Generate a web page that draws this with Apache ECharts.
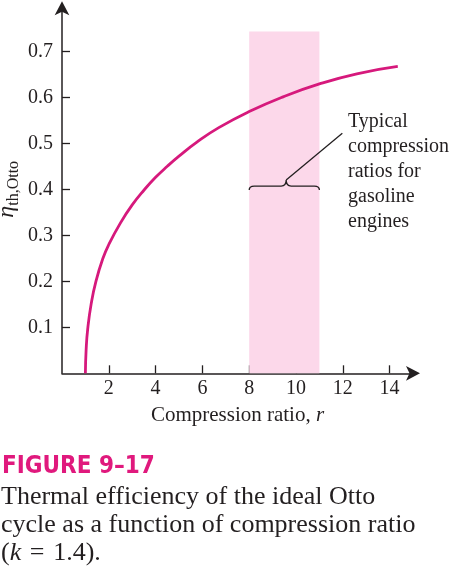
<!DOCTYPE html>
<html>
<head>
<meta charset="utf-8">
<title>Otto</title>
<script src="https://cdn.jsdelivr.net/npm/echarts@6/dist/echarts.min.js"></script>
<style>
    html, body { margin: 0; padding: 0; background: #ffffff; }
    #grafico_1 { width: 455px; height: 578px; }
</style>
</head>
<body>
<div id="grafico_1"></div>
<script>
// valores
var razones = [1, 1.03, 1.1, 1.25, 1.45, 1.75, 2, 2.5, 3, 3.5, 4, 4.5, 5, 5.75, 6.7, 8, 9.45, 11, 12.6, 14.35];
var eficiencia = [0, 0.05, 0.097, 0.152, 0.2, 0.25, 0.28, 0.327, 0.366, 0.398, 0.426, 0.45, 0.472, 0.502, 0.534, 0.569, 0.601, 0.629, 0.651, 0.667];
var ticks_x = [2, 4, 6, 8, 10, 12, 14];
var ticks_y = [0.1, 0.2, 0.3, 0.4, 0.5, 0.6, 0.7];
var rango_tipico = [8, 11];
var altura_rango = 0.743;
var nivel_llave = 0.407;
var punta_llave = 9.58;
var fin_flecha = [11.98, 0.522];
var nota = ["Typical", "compression", "ratios for", "gasoline", "engines"];

var NEGRO = "#231f20";
var ROSA = "#d6197c";
var SERIF = "'Liberation Serif', 'Times New Roman', serif";

function getPuntos(xs, ys){
    var retornar = [];
    xs.forEach(function(x, i){
        retornar.push([x, ys[i]]);
    });
    return retornar;
}

function dibujar_llave(params, api){
    var a = api.coord([rango_tipico[0], nivel_llave]);
    var b = api.coord([rango_tipico[1], nivel_llave]);
    var m = api.coord([punta_llave, nivel_llave]);
    var e = api.coord(fin_flecha);
    var y = a[1], r = 5;
    var d = "M" + a[0] + " " + (y + 4) +
        " Q" + a[0] + " " + y + " " + (a[0] + r) + " " + y +
        " L" + (m[0] - r) + " " + y +
        " Q" + m[0] + " " + y + " " + m[0] + " " + (y - 6) +
        " Q" + m[0] + " " + y + " " + (m[0] + r) + " " + y +
        " L" + (b[0] - r) + " " + y +
        " Q" + b[0] + " " + y + " " + b[0] + " " + (y + 4);
    return {
        type: "group",
        children: [
            { type: "path", shape: { pathData: d }, style: { fill: "none", stroke: NEGRO, lineWidth: 1.3 } },
            { type: "line", shape: { x1: m[0], y1: y - 6, x2: e[0], y2: e[1] }, style: { stroke: NEGRO, lineWidth: 1.3 } }
        ]
    };
}

function grafico1(){
    var dom = document.getElementById("grafico_1");
    var myChart = echarts.init(dom);
    var ejeLinea = { color: NEGRO, width: 1.5 };
    var option = {
        animation: false,
        grid: { left: 62, top: 5.3, width: 351, height: 368, containLabel: false, outerBoundsMode: "none" },
        xAxis: {
            type: "value",
            min: 0,
            max: 15,
            name: "{n|Compression ratio, }{i|r}",
            nameLocation: "middle",
            nameGap: 32,
            nameMoveOverlap: false,
            nameTextStyle: {
                rich: {
                    n: { fontSize: 21, fontFamily: SERIF, color: NEGRO },
                    i: { fontSize: 21, fontFamily: SERIF, fontStyle: "italic", color: NEGRO }
                }
            },
            axisLine: { show: true, onZero: false, symbol: ["none", "arrow"], symbolSize: [11, 14], symbolOffset: [0, 7], lineStyle: ejeLinea },
            axisTick: { show: true, inside: true, length: 8, customValues: ticks_x, lineStyle: { color: NEGRO, width: 1.3 } },
            axisLabel: { customValues: ticks_x, margin: 5, fontSize: 20, fontFamily: SERIF, color: NEGRO },
            splitLine: { show: false }
        },
        yAxis: {
            type: "value",
            min: 0,
            max: 0.8,
            name: "{e|η}{s|th,Otto}",
            nameLocation: "middle",
            nameGap: 40,
            nameMoveOverlap: false,
            nameTextStyle: {
                rich: {
                    e: { fontSize: 24, fontFamily: SERIF, fontStyle: "italic", color: NEGRO },
                    s: { fontSize: 16, fontFamily: SERIF, color: NEGRO, padding: [15, 0, 0, 0] }
                }
            },
            axisLine: { show: true, onZero: false, symbol: ["none", "arrow"], symbolSize: [11, 14], symbolOffset: [0, 4], lineStyle: ejeLinea },
            axisTick: { show: true, inside: true, length: 8, customValues: ticks_y, lineStyle: { color: NEGRO, width: 1.3 } },
            axisLabel: { customValues: ticks_y, margin: 9, fontSize: 20, fontFamily: SERIF, color: NEGRO },
            splitLine: { show: false }
        },
        series: [
            {
                type: "line",
                z: 1,
                data: [],
                silent: true,
                markArea: {
                    silent: true,
                    itemStyle: { color: "#fcd8ea" },
                    data: [[{ coord: [rango_tipico[0], 0] }, { coord: [rango_tipico[1], altura_rango] }]]
                }
            },
            {
                type: "line",
                z: 3,
                smooth: 0.5,
                showSymbol: false,
                silent: true,
                lineStyle: { color: ROSA, width: 2.8 },
                data: getPuntos(razones, eficiencia)
            },
            {
                type: "custom",
                z: 4,
                silent: true,
                clip: false,
                renderItem: dibujar_llave,
                data: [[rango_tipico[0], nivel_llave]]
            }
        ],
        graphic: [
            {
                type: "text",
                left: 348,
                top: 109,
                silent: true,
                style: { text: nota.join("\n"), fontSize: 20, fontFamily: SERIF, lineHeight: 25, fill: NEGRO }
            },
            {
                type: "text",
                left: 2,
                top: 455,
                silent: true,
                style: {
                    text: "FIGURE 9\u201317",
                    fontSize: 24,
                    fontWeight: "bold",
                    fontFamily: "'Liberation Sans Narrow', 'DejaVu Sans Condensed', sans-serif",
                    fill: "#e0197d"
                }
            },
            {
                type: "text",
                left: 1,
                top: 483.5,
                silent: true,
                style: {
                    text: "Thermal efficiency of the ideal Otto\ncycle as a function of compression ratio\n({i|k}\u2004=\u20041.4).",
                    fontSize: 26,
                    fontFamily: SERIF,
                    lineHeight: 28,
                    fill: NEGRO,
                    rich: {
                        i: { fontSize: 26, fontFamily: SERIF, fontStyle: "italic", fill: NEGRO, lineHeight: 28 }
                    }
                }
            }
        ]
    };
    if (option && typeof option === "object") {
        myChart.setOption(option, true);

        window.addEventListener("resize", function(){
            if(myChart != null && myChart != undefined){
                myChart.resize();
            }
        });
    }
}

grafico1();
</script>
</body>
</html>
